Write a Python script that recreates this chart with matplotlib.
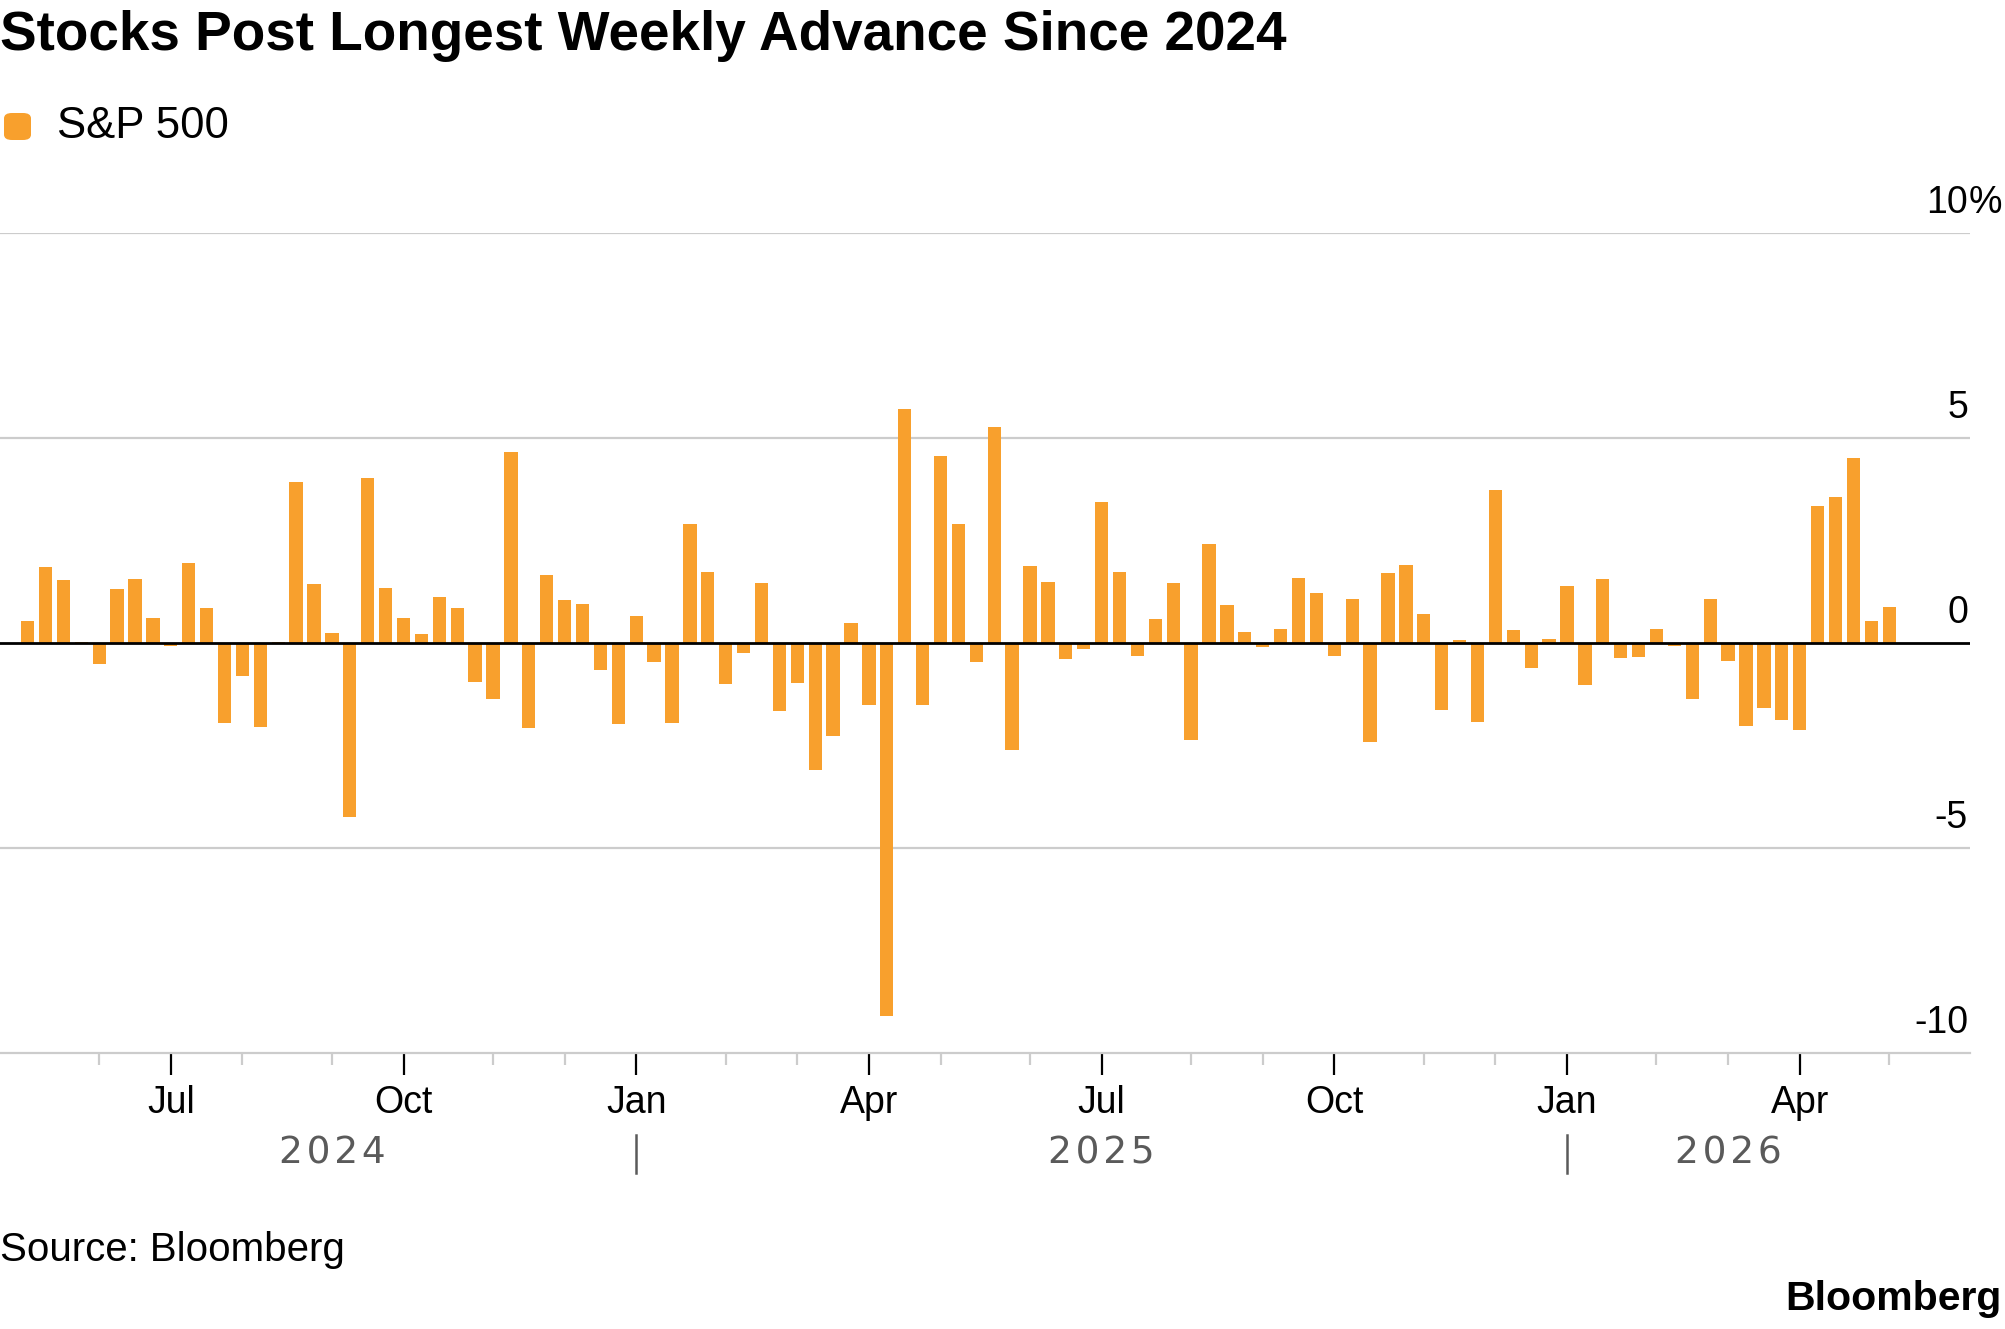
import numpy as np
import pandas as pd
import matplotlib
matplotlib.use("Agg")
import matplotlib.pyplot as plt
import matplotlib.dates as mdates
import matplotlib.transforms as mtransforms
from matplotlib.patches import FancyBboxPatch

# weekly % change of the S&P 500
weekly_change = [
    0.54, 1.85, 1.54, 0.03, -0.50, 1.31, 1.57, 0.60, -0.07, 1.94,
    0.85, -1.95, -0.81, -2.05, 0.02, 3.93, 1.44, 0.24, -4.24, 4.02,
    1.35, 0.62, 0.22, 1.11, 0.85, -0.96, -1.36, 4.65, -2.08, 1.67,
    1.05, 0.94, -0.65, -1.98, 0.67, -0.47, -1.95, 2.91, 1.74, -0.99,
    -0.25, 1.46, -1.66, -0.97, -3.10, -2.28, 0.49, -1.52, -9.09, 5.70,
    -1.51, 4.57, 2.91, -0.47, 5.27, -2.60, 1.87, 1.50, -0.38, -0.14,
    3.43, 1.72, -0.31, 0.59, 1.46, -2.36, 2.42, 0.93, 0.26, -0.10,
    0.33, 1.58, 1.21, -0.31, 1.08, -2.42, 1.70, 1.91, 0.71, -1.63,
    0.07, -1.93, 3.72, 0.31, -0.62, 0.09, 1.39, -1.02, 1.56, -0.37,
    -0.34, 0.33, -0.08, -1.37, 1.07, -0.43, -2.02, -1.59, -1.89, -2.11,
    3.35, 3.55, 4.52, 0.54, 0.89,
]
first_week = "2024-05-03"
week_dates = pd.date_range(first_week, periods=len(weekly_change), freq="7D")

y_ticks = [10, 5, 0, -5, -10]
y_labels = ["10", "5", "0", "-5", "-10"]
major_months = [1, 4, 7, 10]
title = "Stocks Post Longest Weekly Advance Since 2024"
series_name = "S&P 500"
source = "Source: Bloomberg"

ORANGE = "#F8A02D"
GRID = "#cccccc"
YEARGREY = "#5a5a5a"

plt.rcParams["font.family"] = ["Liberation Sans", "DejaVu Sans"]

W, H = 2005, 1329
fig = plt.figure(figsize=(W / 100, H / 100), dpi=100)
ax = fig.add_axes([0, 1 - 1053 / H, 1970 / W, (1053 - 233) / H])

ax.bar(week_dates, weekly_change, width=5.2, color=ORANGE, zorder=2)
ax.axhline(0, color="black", lw=2.0, zorder=3)
for v in (10, 5, -5):
    ax.axhline(v, color=GRID, lw=1.6, zorder=1)

ax.set_ylim(-10, 10)
ax.set_xlim(week_dates[0] - pd.Timedelta(days=10.8),
             week_dates[-1] + pd.Timedelta(days=31.6))

for s in ("top", "left", "right"):
    ax.spines[s].set_visible(False)
ax.spines["bottom"].set_color(GRID)
ax.spines["bottom"].set_linewidth(1.6)
ax.set_yticks([])

# month ticks snap to the last weekly bar on or before the 1st of the month
months = pd.date_range("2024-05-01", "2026-06-01", freq="MS")
major_pos, major_lab, minor_pos = [], [], []
for m in months:
    prior = week_dates[week_dates <= m]
    if len(prior) == 0 or m > week_dates[-1] + pd.Timedelta(days=6):
        continue
    d = prior[-1]
    if m.month in major_months:
        major_pos.append(mdates.date2num(d))
        major_lab.append(m.strftime("%b"))
    else:
        minor_pos.append(mdates.date2num(d))

ax.set_xticks(major_pos)
ax.set_xticklabels(major_lab, fontsize=27)
ax.set_xticks(minor_pos, minor=True)
ax.tick_params(axis="x", which="major", length=16, width=1.6, color="black",
               pad=7)
ax.tick_params(axis="x", which="minor", length=8.5, width=1.6, color=GRID)

# y labels sit above the gridlines on the right
trans = mtransforms.blended_transform_factory(ax.transAxes, ax.transData)
for v, lab in zip(y_ticks, y_labels):
    ax.annotate(lab, xy=(1, v), xycoords=trans, xytext=(-2, 20),
                textcoords="offset pixels", ha="right", va="baseline",
                fontsize=27)
ax.annotate("%", xy=(1, 10), xycoords=trans, xytext=(-1, 20),
            textcoords="offset pixels", ha="left", va="baseline",
            fontsize=27, annotation_clip=False)

# year labels and separators
jan_pos = [p for p, l in zip(major_pos, major_lab) if l == "Jan"]
bounds = [mdates.date2num(week_dates[0])] + jan_pos + [mdates.date2num(week_dates[-1])]
years = sorted(set(week_dates.year))
xtrans = mtransforms.blended_transform_factory(ax.transData, fig.transFigure)
for i, yr in enumerate(years):
    mid = (bounds[i] + bounds[i + 1]) / 2
    ax.text(mid, 1 - 1164 / H, "\u200a".join(str(yr)), transform=xtrans,
            ha="center", va="baseline", fontsize=27, color=YEARGREY,
            family="DejaVu Sans")
for p in jan_pos:
    ax.plot([p, p], [1 - 1135 / H, 1 - 1173 / H], transform=xtrans,
            color=YEARGREY, lw=1.8, clip_on=False)

# title, legend, source, logo
fig.text(0, 1 - 50 / H, title, fontsize=39.5, fontweight="bold",
         ha="left", va="baseline")
fig.patches.append(FancyBboxPatch((4 / W, 1 - 140 / H), 27 / W, 27 / H,
                                  boxstyle="round,pad=0,rounding_size=0.004",
                                  transform=fig.transFigure,
                                  facecolor=ORANGE, edgecolor="none"))
fig.text(57 / W, 1 - 138 / H, series_name, fontsize=31.5,
         ha="left", va="baseline")
fig.text(0, 1 - 1261 / H, source, fontsize=29, ha="left", va="baseline")
fig.text(2001 / W, 1 - 1310 / H, "Bloomberg", fontsize=29.5, fontweight="bold",
         ha="right", va="baseline")

fig.savefig("out.png", dpi=100, facecolor="white")
